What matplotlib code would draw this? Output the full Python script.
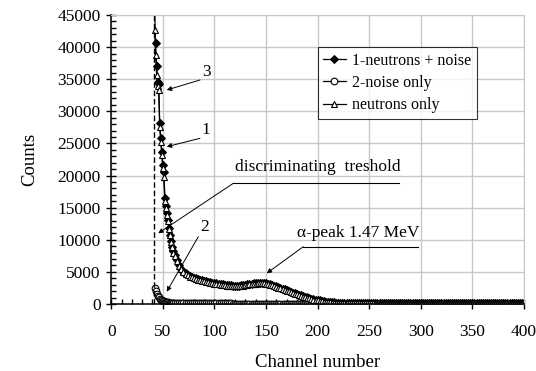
"""
Counts spectrum of the detector: neutrons + noise, noise only, neutrons only.
"""

import numpy as np
import matplotlib.pyplot as plt
from matplotlib.ticker import MultipleLocator

plt.rcParams['font.family'] = ['Liberation Serif', 'DejaVu Serif']

# channel grid: every channel on the steep rise, every 2nd channel on the tail
channels = np.concatenate([np.arange(42, 61), np.arange(62, 401, 2)])

# 1 - neutrons + noise
neutrons_noise = [
    46500, 40600, 37100, 34600, 34300, 28200, 25800, 23700, 21600, 20600,
    16500, 15200, 14100, 13100, 11900, 10800, 9800, 8900, 8200,
    7600, 6800, 6100, 5500, 5050, 4750, 4550, 4380, 4230, 4090,
    3980, 3880, 3780, 3690, 3610, 3530, 3460, 3390, 3330, 3270,
    3210, 3160, 3100, 3050, 3000, 2960, 2920, 2890, 2870, 2850,
    2850, 2870, 2900, 2950, 3000, 3060, 3110, 3160, 3210, 3250,
    3290, 3310, 3300, 3270, 3220, 3150, 3060, 2960, 2850, 2740,
    2620, 2500, 2380, 2260, 2140, 2020, 1900, 1780, 1660, 1550,
    1440, 1330, 1230, 1130, 1030, 940, 850, 770, 690, 620,
    550, 490, 430, 380, 340, 300, 270, 240, 220, 200,
    190, 185, 180, 176, 170, 168, 163, 160, 158, 152,
    150, 148, 146, 142, 140, 139, 136, 134, 133, 130,
    129, 127, 126, 124, 122, 121, 120, 118, 117, 116,
    115, 113, 112, 111, 110, 110, 108, 107, 106, 105,
    104, 104, 103, 102, 101, 100, 100, 99, 98, 98,
    97, 96, 96, 95, 95, 94, 93, 93, 92, 92,
    91, 91, 90, 90, 89, 89, 88, 88, 87, 87,
    86, 86, 86, 85, 85, 84, 84, 84, 83, 83,
    82, 82, 82, 81, 81, 81, 80, 80, 80, 80,
]

# 2 - noise only
noise_only = [
    2500, 2000, 1600, 1300, 1050, 850, 700, 580, 480, 410,
    350, 300, 270, 240, 220, 200, 185, 170, 160,
    150, 140, 132, 125, 120, 115, 111, 107, 104, 101,
    98, 96, 94, 92, 90, 88, 87, 86, 85, 84,
    83, 82, 81, 80, 80, 79, 78, 78, 77, 77,
    76, 76, 75, 75, 74, 74, 73, 73, 73, 72,
    72, 72, 71, 71, 71, 70, 70, 70, 69, 69,
    69, 69, 68, 68, 68, 68, 67, 67, 67, 67,
    66, 66, 66, 66, 65, 65, 65, 65, 65, 64,
    64, 64, 64, 64, 63, 63, 63, 63, 63, 62,
    62, 62, 62, 61, 61, 61, 61, 60, 60, 60,
    60, 59, 59, 59, 59, 58, 58, 58, 58, 57,
    57, 57, 57, 56, 56, 56, 56, 56, 55, 55,
    55, 55, 55, 54, 54, 54, 54, 54, 53, 53,
    53, 53, 53, 53, 52, 52, 52, 52, 52, 52,
    51, 51, 51, 51, 51, 50, 50, 50, 50, 50,
    49, 49, 49, 49, 49, 49, 48, 48, 48, 48,
    48, 48, 47, 47, 47, 47, 47, 47, 47, 46,
    46, 46, 46, 46, 46, 45, 45, 45, 45, 45,
]

# 3 - neutrons only
neutrons_only = [
    42700, 38800, 35700, 33900, 33300, 27500, 25300, 23200, 21100, 19800,
    16000, 14900, 13800, 12900, 11700, 10700, 9700, 8800, 8000,
    7450, 6660, 5970, 5380, 4930, 4640, 4440, 4270, 4130, 3990,
    3880, 3780, 3690, 3600, 3520, 3440, 3370, 3300, 3250, 3190,
    3130, 3080, 3020, 2970, 2920, 2880, 2840, 2810, 2790, 2770,
    2770, 2790, 2830, 2870, 2930, 2980, 3040, 3090, 3140, 3180,
    3220, 3240, 3230, 3200, 3150, 3080, 2990, 2890, 2780, 2670,
    2550, 2430, 2310, 2190, 2070, 1950, 1830, 1710, 1590, 1480,
    1370, 1260, 1160, 1060, 970, 870, 780, 700, 620, 550,
    490, 430, 370, 320, 280, 240, 210, 180, 160, 140,
    130, 125, 120, 115, 110, 107, 103, 100, 98, 93,
    91, 89, 87, 84, 82, 81, 78, 77, 76, 73,
    72, 70, 69, 68, 66, 65, 64, 62, 62, 61,
    60, 58, 57, 56, 56, 55, 54, 53, 52, 52,
    51, 51, 50, 49, 49, 48, 48, 47, 46, 46,
    46, 45, 45, 44, 44, 44, 43, 43, 42, 42,
    42, 41, 41, 41, 40, 40, 40, 39, 39, 39,
    38, 38, 38, 38, 37, 37, 37, 37, 36, 36,
    36, 36, 35, 35, 35, 35, 34, 34, 34, 34,
]

threshold_channel = 41


def arrow(ax, xy, xytext):
    ax.annotate('', xy=xy, xytext=xytext,
                arrowprops=dict(arrowstyle='-|>', color='black', lw=0.7,
                                mutation_scale=7, shrinkA=0, shrinkB=0))


def main():
    fig = plt.figure(figsize=(5.36, 3.71), dpi=100)
    ax = fig.add_axes([0.2075, 0.1806, 0.7701, 0.779])

    ax.plot(channels, neutrons_noise, '-', color='black', lw=0.9,
            marker='D', ms=3.8, mfc='black', mec='black', mew=0.7,
            label='1-neutrons + noise')
    ax.plot(channels, noise_only, '-', color='black', lw=0.9,
            marker='o', ms=4.8, mfc='white', mec='black', mew=0.8,
            label='2-noise only')
    ax.plot(channels, neutrons_only, '-', color='black', lw=0.9,
            marker='^', ms=5.0, mfc='white', mec='black', mew=0.8,
            label='neutrons only')

    ax.axvline(threshold_channel, color='black', lw=1.0, ls=(0, (4, 2)))

    ax.set_xlim(0, 400)
    ax.set_ylim(0, 45000)
    ax.xaxis.set_major_locator(MultipleLocator(50))
    ax.xaxis.set_minor_locator(MultipleLocator(10))
    ax.yaxis.set_major_locator(MultipleLocator(5000))
    ax.yaxis.set_minor_locator(MultipleLocator(1000))
    ax.grid(True, which='major', color='#c8c8c8', lw=1.0)
    ax.set_axisbelow(True)
    ax.tick_params(which='major', direction='inout', length=7, width=1,
                   labelsize=12.5, pad=4)
    ax.tick_params(axis='x', which='major', pad=11)
    ax.tick_params(which='minor', direction='in', length=3.5, width=1)
    for side in ('top', 'right'):
        ax.spines[side].set_color('#c8c8c8')
    for side in ('left', 'bottom'):
        ax.spines[side].set_linewidth(1.1)

    ax.set_xlabel('Channel number', fontsize=13.5, labelpad=10)
    ax.set_ylabel('Counts', fontsize=13.5, labelpad=14)

    leg = ax.legend(loc='upper left', bbox_to_anchor=(0.50, 0.889),
                    fontsize=11.5, frameon=True, fancybox=False,
                    edgecolor='black', handlelength=1.4, handletextpad=0.4,
                    borderpad=0.35, labelspacing=0.4, borderaxespad=0)
    leg.get_frame().set_linewidth(0.8)

    # curve labels
    ax.text(92.5, 36170, '3', fontsize=12.5, ha='center', va='center')
    arrow(ax, (53.8, 33320), (86, 34880))
    ax.text(91.6, 27090, '1', fontsize=12.5, ha='center', va='center')
    arrow(ax, (53.8, 24490), (86, 25800))
    ax.text(90.9, 12040, '2', fontsize=12.5, ha='center', va='center')
    arrow(ax, (53.8, 1915), (84.4, 10480))

    # threshold label
    ax.text(200, 21330, 'discriminating  treshold', fontsize=12.5,
            ha='center', va='center')
    ax.plot([118.3, 279.2], [18790, 18790], color='black', lw=0.8)
    arrow(ax, (45.6, 11010), (118.3, 18790))

    # alpha peak label
    ax.text(239, 11060, 'α-peak 1.47 MeV', fontsize=12.5,
            ha='center', va='center')
    ax.plot([186.1, 297.6], [8920, 8920], color='black', lw=0.8)
    arrow(ax, (150.7, 4780), (186.1, 8920))

    fig.savefig('out.png', dpi=100)


if __name__ == '__main__':
    main()
